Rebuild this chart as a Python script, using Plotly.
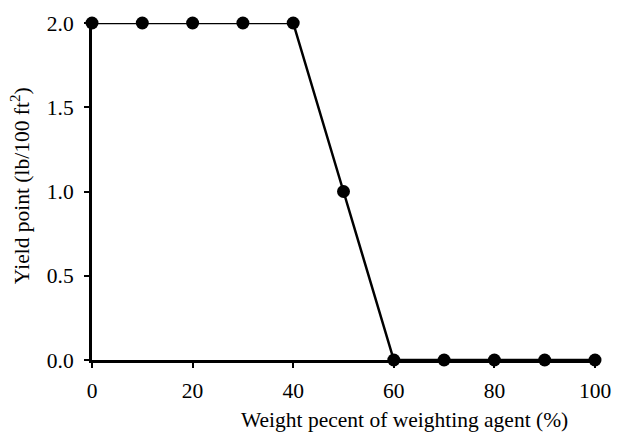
import plotly.graph_objects as go

weight_pct = [0, 10, 20, 30, 40, 50, 60, 70, 80, 90, 100]
yield_point = [2.0, 2.0, 2.0, 2.0, 2.0, 1.0, 0.0, 0.0, 0.0, 0.0, 0.0]
x_ticks = [0, 20, 40, 60, 80, 100]
y_ticks = [0.0, 0.5, 1.0, 1.5, 2.0]

fig = go.Figure(go.Scatter(
    x=weight_pct, y=yield_point, mode="lines+markers",
    line=dict(color="black", width=2.5),
    marker=dict(color="black", size=13),
    cliponaxis=False,
))

font = dict(family="Liberation Serif", size=21.5, color="black")
fig.update_layout(
    width=623, height=437,
    margin=dict(l=92, r=20, t=15, b=77),
    paper_bgcolor="white", plot_bgcolor="white",
    font=font, showlegend=False,
    xaxis=dict(range=[0, 100], tickvals=x_ticks, ticktext=[str(v) for v in x_ticks],
               tickfont=font, ticklabelstandoff=4,
               showline=True, linecolor="black", linewidth=3, showgrid=False, zeroline=False,
               ticks="outside", ticklen=5, tickwidth=2, tickcolor="black"),
    yaxis=dict(range=[0, 2], tickvals=y_ticks, ticktext=[f"{v:.1f}" for v in y_ticks],
               tickfont=font, ticklabelstandoff=6,
               showline=True, linecolor="black", linewidth=3, showgrid=False, zeroline=False,
               ticks="outside", ticklen=5, tickwidth=2, tickcolor="black"),
    annotations=[
        dict(text="Weight pecent of weighting agent (%)", xref="paper", yref="paper",
             x=0.622, y=-0.178, xanchor="center", yanchor="middle", showarrow=False, font=font),
        dict(text="Yield point (lb/100 ft<sup>2</sup>)", xref="paper", yref="paper",
             x=-0.143, y=0.516, xanchor="center", yanchor="middle", textangle=-90,
             showarrow=False, font=font),
    ],
)
fig.write_html("out.html")
